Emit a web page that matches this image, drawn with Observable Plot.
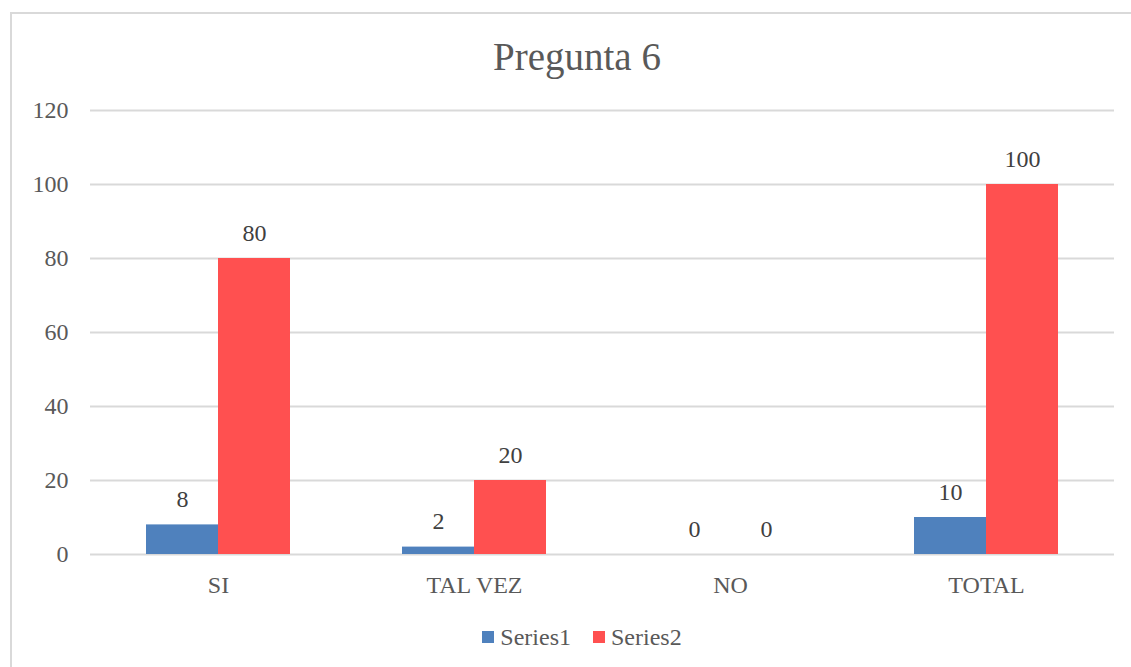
<!DOCTYPE html>
<html><head><meta charset="utf-8">
<script src="https://cdn.jsdelivr.net/npm/d3@7"></script>
<script src="https://cdn.jsdelivr.net/npm/@observablehq/plot@0.6"></script>
<style>
html,body{margin:0;padding:0;background:#fff;overflow:hidden;}
#wrap{position:relative;width:1131px;height:667px;font-family:"Liberation Serif",serif;overflow:hidden;}
#frame{position:absolute;left:10px;top:12px;width:1200px;height:700px;border-left:2px solid #d9d9d9;border-top:2px solid #d9d9d9;box-sizing:border-box;}
#title{position:absolute;left:10px;width:1134px;top:37px;text-align:center;font-size:39px;line-height:39px;color:#595959;}
#chart{position:absolute;left:0;top:0;}
#legend{position:absolute;left:10px;width:1144px;top:625px;display:flex;justify-content:center;gap:22px;font-size:24px;line-height:24px;color:#595959;}
#legend .item{display:flex;align-items:center;gap:6px;}
#legend .sw{width:12px;height:12px;display:inline-block;}
</style></head>
<body>
<div id="wrap">
  <div id="frame"></div>
  <div id="chart"></div>
  <div id="title">Pregunta 6</div>
  <div id="legend"></div>
</div>
<script>
const categories = ["SI", "TAL VEZ", "NO", "TOTAL"];
const seriesNames = ["Series1", "Series2"];
const series1 = [8, 2, 0, 10];
const series2 = [80, 20, 0, 100];
const yTicks = [0, 20, 40, 60, 80, 100, 120];
const colors = ["#4f81bd", "#ff5050"];

const data = categories.flatMap((c, i) => [
  {category: c, series: seriesNames[0], value: series1[i]},
  {category: c, series: seriesNames[1], value: series2[i]}
]);

const chart = Plot.plot({
  width: 1131, height: 667,
  marginLeft: 89, marginRight: 16, marginTop: 110, marginBottom: 113,
  style: {fontFamily: "Liberation Serif", fontSize: "24px", color: "#595959", background: "transparent"},
  fx: {domain: categories, paddingInner: 0, paddingOuter: 0, label: null},
  x: {domain: seriesNames, paddingInner: 0, paddingOuter: 0.77, axis: null},
  y: {domain: [0, 120], ticks: yTicks, label: null},
  color: {domain: seriesNames, range: colors},
  marks: [
    Plot.gridY(yTicks, {stroke: "#d9d9d9", strokeOpacity: 1, strokeWidth: 2}),
    Plot.barY(data, {fx: "category", x: "series", y: "value", fill: "series"}),
    Plot.text(data, {fx: "category", x: "series", y: "value", text: d => String(d.value), dy: -18, lineAnchor: "bottom", fill: "#404040", fontSize: 24}),
    Plot.axisY(yTicks, {tickSize: 0, tickPadding: 22, fill: "#595959", label: null, fontSize: 24}),
    Plot.axisFx({anchor: "bottom", tickSize: 0, tickPadding: 21, label: null, fill: "#595959", fontSize: 24})
  ]
});
document.getElementById("chart").appendChild(chart);

const legend = document.getElementById("legend");
seriesNames.forEach((s, i) => {
  const item = document.createElement("div");
  item.className = "item";
  const sw = document.createElement("span");
  sw.className = "sw";
  sw.style.background = colors[i];
  const t = document.createElement("span");
  t.textContent = s;
  item.appendChild(sw); item.appendChild(t);
  legend.appendChild(item);
});
</script>
</body></html>
